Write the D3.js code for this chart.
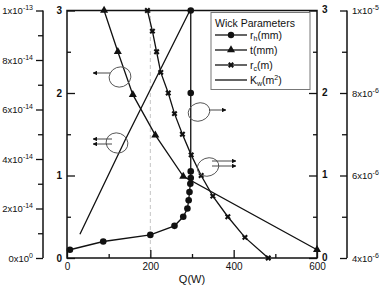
<!DOCTYPE html>
<html>
<head>
<meta charset="utf-8">
<script src="https://cdn.jsdelivr.net/npm/d3@7"></script>
<style>
  body { margin: 0; background: #fff; }
  text { font-family: "Liberation Sans", Arial, sans-serif; fill: #111; }
  .domain { display: none; }
</style>
</head>
<body>
<div id="chart"></div>
<script>
const width = 383;
const height = 285;

// r_h (mm), right axis 0..3
const rhQ = [7, 87, 200, 258, 279, 289, 292, 294, 296, 297, 297, 297, 297];
const rhVal = [0.1, 0.2, 0.28, 0.39, 0.5, 0.6, 0.7, 0.8, 0.9, 0.97, 1.05, 2.0, 3.0];

// t (mm), left axis 0..3
const tQ = [89, 122, 158, 212, 279, 600];
const tVal = [3.0, 2.5, 1.98, 1.49, 0.99, 0.1];

// r_c (m), far right axis 4e-6..1e-5
const rcQ = [193, 205, 215, 225, 243, 258, 277, 298, 322, 350, 386, 427, 483];
const rcVal = [10e-6, 9.5e-6, 9.0e-6, 8.5e-6, 8.0e-6, 7.5e-6, 7.0e-6, 6.5e-6, 6.0e-6, 5.5e-6, 5.0e-6, 4.5e-6, 4.0e-6];

// K_w (m^2), far left axis 0..1e-13
const kQ = [31, 139, 295];
const kVal = [0.96e-14, 4.75e-14, 1e-13];

const xTicks = [0, 200, 400, 600];
const farLeftTicks = [0, 2e-14, 4e-14, 6e-14, 8e-14, 1e-13];
const farLeftLabels = [["0x10", "0"], ["2x10", "-14"], ["4x10", "-14"], ["6x10", "-14"], ["8x10", "-14"], ["1x10", "-13"]];
const farRightTicks = [4e-6, 6e-6, 8e-6, 1e-5];
const farRightLabels = [["4x10", "-6"], ["6x10", "-6"], ["8x10", "-6"], ["1x10", "-5"]];

const svg = d3.select("#chart").append("svg")
  .attr("width", width)
  .attr("height", height);

const plotLeft = 67, plotRight = 317, plotTop = 10.5, plotBottom = 258;

const x = d3.scaleLinear().domain([0, 600]).range([plotLeft, plotRight]);
const yL = d3.scaleLinear().domain([0, 3]).range([plotBottom, plotTop]);
const yR = d3.scaleLinear().domain([0, 3]).range([plotBottom, plotTop]);
const yK = d3.scaleLinear().domain([0, 1e-13]).range([plotBottom, plotTop]);
const yRc = d3.scaleLinear().domain([4e-6, 1e-5]).range([plotBottom, plotTop]);

// dashed reference line at Q=200
svg.append("line")
  .attr("x1", x(200)).attr("x2", x(200))
  .attr("y1", plotBottom).attr("y2", plotTop)
  .attr("stroke", "#c4c4c4").attr("stroke-width", 1)
  .attr("stroke-dasharray", "4,3");

function styleAxis(g) {
  g.selectAll(".tick line").attr("stroke", "#111").attr("stroke-width", 1.3);
  g.selectAll(".tick text").style("font-size", "10px").attr("fill", "#111");
}

// x axis, ticks inward
svg.append("g").attr("transform", `translate(0,${plotBottom})`)
  .call(d3.axisBottom(x).tickValues(xTicks).tickSizeInner(-8).tickPadding(5).tickFormat(d3.format("d")))
  .call(styleAxis);
svg.append("g").attr("transform", `translate(0,${plotBottom})`)
  .call(d3.axisBottom(x).tickValues([100, 300, 500]).tickSizeInner(-4).tickFormat(""))
  .call(styleAxis);

// left axis 0..3
svg.append("g").attr("transform", `translate(${plotLeft},0)`)
  .call(d3.axisLeft(yL).tickValues([0, 1, 2, 3]).tickSizeInner(-8).tickPadding(5).tickFormat(d3.format("d")))
  .call(styleAxis)
  .call(g => g.selectAll(".tick text").style("font-weight", "bold"));
svg.append("g").attr("transform", `translate(${plotLeft},0)`)
  .call(d3.axisLeft(yL).tickValues([0.5, 1.5, 2.5]).tickSizeInner(-4).tickFormat(""))
  .call(styleAxis);

// right axis 0..3
svg.append("g").attr("transform", `translate(${plotRight},0)`)
  .call(d3.axisRight(yR).tickValues([0, 1, 2, 3]).tickSizeInner(-8).tickPadding(5).tickFormat(d3.format("d")))
  .call(styleAxis)
  .call(g => g.selectAll(".tick text").style("font-weight", "bold").attr("dy", "0.2em"));
svg.append("g").attr("transform", `translate(${plotRight},0)`)
  .call(d3.axisRight(yR).tickValues([0.5, 1.5, 2.5]).tickSizeInner(-4).tickFormat(""))
  .call(styleAxis);

// frame
svg.append("rect")
  .attr("x", plotLeft).attr("y", plotTop)
  .attr("width", plotRight - plotLeft).attr("height", plotBottom - plotTop)
  .attr("fill", "none").attr("stroke", "#111").attr("stroke-width", 1.5);

// far left axis (K)
const farLeftX = 43;
svg.append("g").attr("transform", `translate(${farLeftX},0)`)
  .call(d3.axisLeft(yK).tickValues(farLeftTicks).tickSizeInner(7).tickFormat(""))
  .call(styleAxis);
svg.append("g").attr("transform", `translate(${farLeftX},0)`)
  .call(d3.axisLeft(yK).tickValues([1e-14, 3e-14, 5e-14, 7e-14, 9e-14]).tickSizeInner(5).tickFormat(""))
  .call(styleAxis);
svg.append("line").attr("x1", farLeftX).attr("x2", farLeftX)
  .attr("y1", yK(0)).attr("y2", yK(1e-13))
  .attr("stroke", "#111").attr("stroke-width", 1.5);

farLeftTicks.forEach((v, i) => {
  const t = svg.append("text")
    .attr("x", farLeftX - 10).attr("y", yK(v) + 3.5)
    .attr("text-anchor", "end")
    .style("font-size", "9.5px");
  t.append("tspan").text(farLeftLabels[i][0]);
  t.append("tspan").attr("dy", -4).style("font-size", "7px").text(farLeftLabels[i][1]);
});

// far right axis (r_c)
const farRightX = 347;
svg.append("g").attr("transform", `translate(${farRightX},0)`)
  .call(d3.axisLeft(yRc).tickValues(farRightTicks).tickSizeInner(7).tickFormat(""))
  .call(styleAxis);
svg.append("g").attr("transform", `translate(${farRightX},0)`)
  .call(d3.axisLeft(yRc).tickValues([5e-6, 7e-6, 9e-6]).tickSizeInner(5).tickFormat(""))
  .call(styleAxis);
svg.append("line").attr("x1", farRightX).attr("x2", farRightX)
  .attr("y1", yRc(4e-6)).attr("y2", yRc(1e-5))
  .attr("stroke", "#111").attr("stroke-width", 1.5);

farRightTicks.forEach((v, i) => {
  const t = svg.append("text")
    .attr("x", farRightX + 5).attr("y", yRc(v) + 3.5)
    .style("font-size", "9.5px");
  t.append("tspan").text(farRightLabels[i][0]);
  t.append("tspan").attr("dy", -4).style("font-size", "7px").text(farRightLabels[i][1]);
});

// x axis title
svg.append("text")
  .attr("x", (plotLeft + plotRight) / 2).attr("y", 283)
  .attr("text-anchor", "middle")
  .style("font-size", "11px")
  .text("Q(W)");

// series
const line = d3.line();

function drawSeries(qs, vs, yScale) {
  const pts = qs.map((q, i) => [x(q), yScale(vs[i])]);
  svg.append("path")
    .attr("d", line(pts))
    .attr("fill", "none").attr("stroke", "#111").attr("stroke-width", 1.3);
  return pts;
}

const kPts = drawSeries(kQ, kVal, yK);
const tPts = drawSeries(tQ, tVal, yL);
const rcPts = drawSeries(rcQ, rcVal, yRc);
const rhPts = drawSeries(rhQ, rhVal, yR);

const triangle = d3.symbol().type(d3.symbolTriangle).size(28);
const crossMark = d3.symbol().type(d3.symbolCross).size(22);

svg.append("g").selectAll("path")
  .data(tPts).join("path")
  .attr("transform", d => `translate(${d[0]},${d[1]})`)
  .attr("d", triangle).attr("fill", "#111");

svg.append("g").selectAll("path")
  .data(rcPts).join("path")
  .attr("transform", d => `translate(${d[0]},${d[1]}) rotate(45)`)
  .attr("d", crossMark)
  .attr("fill", "#111");

svg.append("g").selectAll("circle")
  .data(rhPts).join("circle")
  .attr("cx", d => d[0]).attr("cy", d => d[1])
  .attr("r", 3.3).attr("fill", "#111");

// annotation loops with arrows
svg.append("defs").append("marker")
  .attr("id", "ah").attr("viewBox", "0 0 10 10")
  .attr("refX", 9).attr("refY", 5)
  .attr("markerWidth", 5).attr("markerHeight", 5)
  .attr("orient", "auto")
  .append("path").attr("d", "M0,0L10,5L0,10Z").attr("fill", "#111");

const loops = [
  { cx: 120, cy: 77, rx: 11, ry: 10, rot: -20, arrows: [[110, 73, 93, 73]] },
  { cx: 117, cy: 143, rx: 11, ry: 10, rot: 20, arrows: [[112, 139, 93, 139], [112, 144, 93, 144]] },
  { cx: 199, cy: 112, rx: 11, ry: 9, rot: -20, arrows: [[209, 110, 226, 110]] },
  { cx: 208, cy: 167, rx: 11, ry: 9, rot: -20, arrows: [[212, 161, 236, 161], [212, 166, 236, 166]] }
];

loops.forEach(l => {
  svg.append("ellipse")
    .attr("cx", l.cx).attr("cy", l.cy).attr("rx", l.rx).attr("ry", l.ry)
    .attr("transform", `rotate(${l.rot},${l.cx},${l.cy})`)
    .attr("fill", "none").attr("stroke", "#555").attr("stroke-width", 0.9);
  l.arrows.forEach(a => {
    svg.append("line")
      .attr("x1", a[0]).attr("y1", a[1]).attr("x2", a[2]).attr("y2", a[3])
      .attr("stroke", "#333").attr("stroke-width", 0.9)
      .attr("marker-end", "url(#ah)");
  });
});

// legend
const lg = svg.append("g");
lg.append("rect")
  .attr("x", 211).attr("y", 12.5).attr("width", 99).attr("height", 77)
  .attr("fill", "#fff").attr("stroke", "#777").attr("stroke-width", 1);
lg.append("text").attr("x", 215).attr("y", 27).style("font-size", "10.5px").text("Wick Parameters");

const legendItems = [
  { main: "r", sub: "h", rest: "(mm)", sup: "", mark: "circle" },
  { main: "t", sub: "", rest: "(mm)", sup: "", mark: "triangle" },
  { main: "r", sub: "c", rest: "(m)", sup: "", mark: "cross" },
  { main: "K", sub: "w", rest: "(m", sup: "2", mark: "none" }
];

legendItems.forEach((it, i) => {
  const yy = 35 + i * 15;
  lg.append("line").attr("x1", 215).attr("x2", 247).attr("y1", yy).attr("y2", yy)
    .attr("stroke", "#111").attr("stroke-width", 1.3);
  if (it.mark === "circle") {
    lg.append("circle").attr("cx", 231).attr("cy", yy).attr("r", 3.2).attr("fill", "#111");
  } else if (it.mark === "triangle") {
    lg.append("path").attr("transform", `translate(231,${yy})`).attr("d", triangle).attr("fill", "#111");
  } else if (it.mark === "cross") {
    lg.append("path").attr("transform", `translate(231,${yy}) rotate(45)`)
      .attr("d", crossMark).attr("fill", "#111");
  }
  const t = lg.append("text").attr("x", 250).attr("y", yy + 4).style("font-size", "10.5px");
  t.append("tspan").text(it.main);
  if (it.sub) t.append("tspan").attr("dy", 2).style("font-size", "7px").text(it.sub);
  t.append("tspan").attr("dy", it.sub ? -2 : 0).text(it.rest);
  if (it.sup) {
    t.append("tspan").attr("dy", -4).style("font-size", "7px").text(it.sup);
    t.append("tspan").attr("dy", 4).text(")");
  }
});
</script>
</body>
</html>
